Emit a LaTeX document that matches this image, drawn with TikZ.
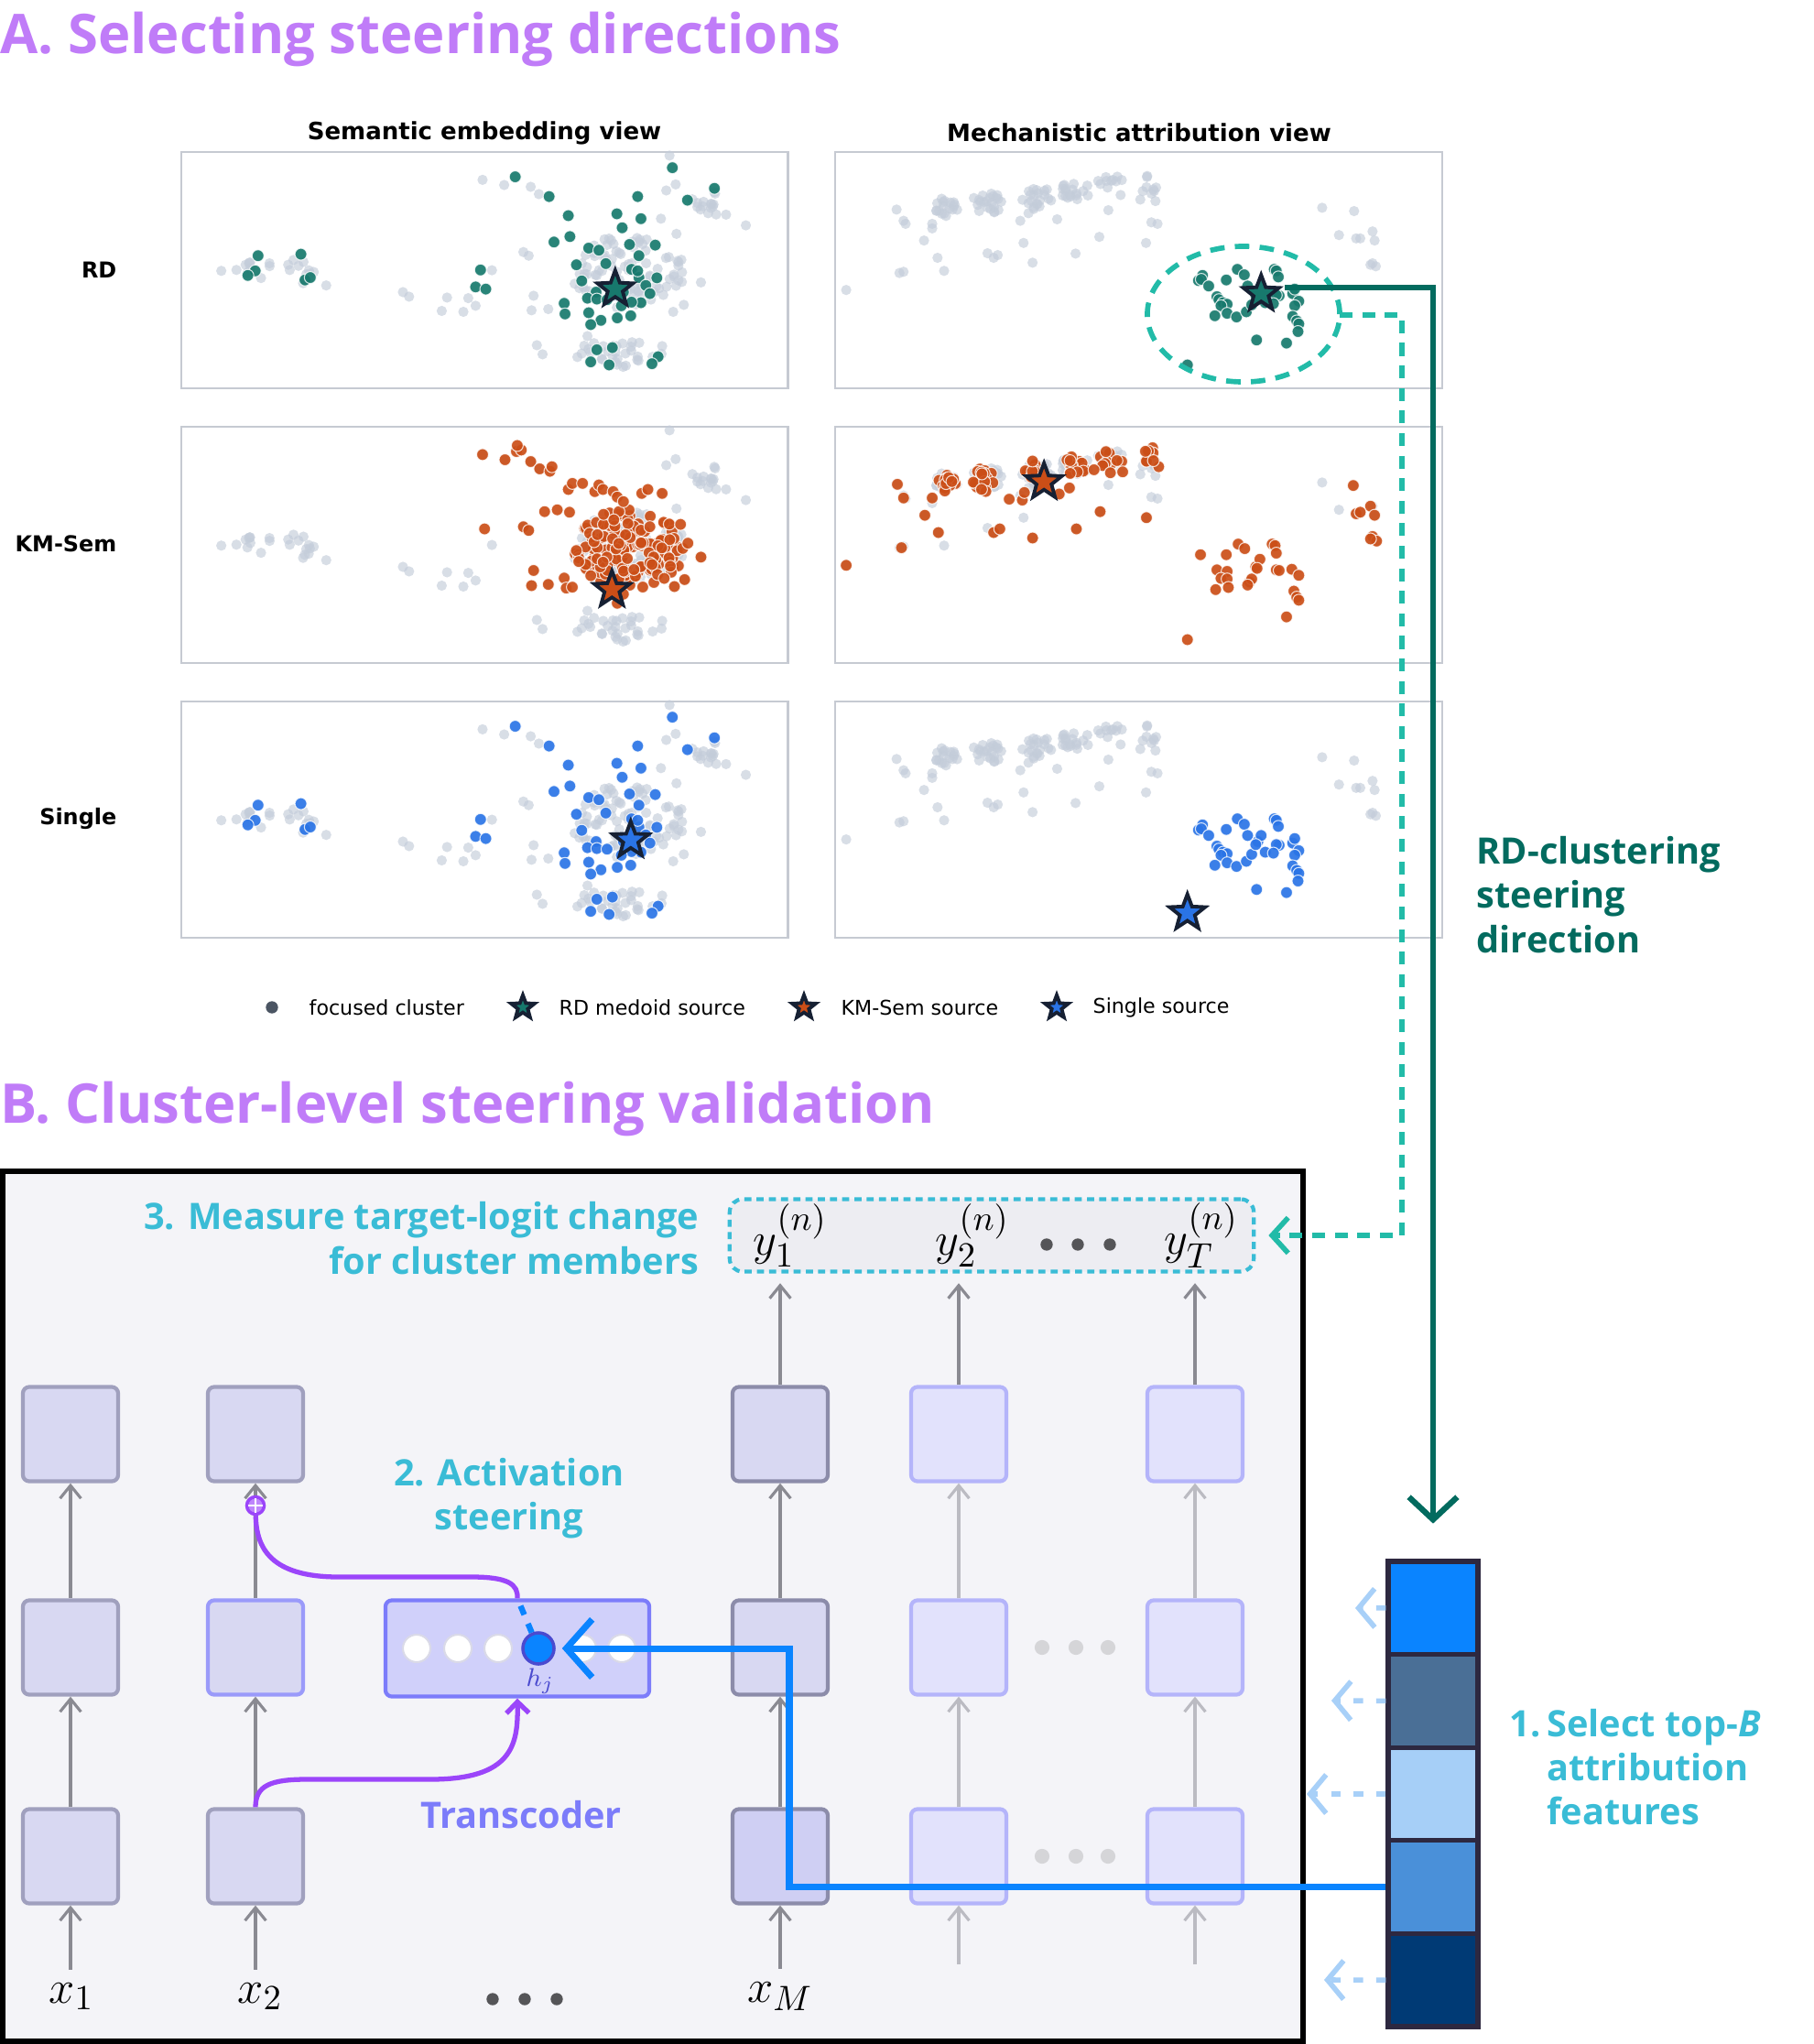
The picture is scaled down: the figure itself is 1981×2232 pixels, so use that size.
\documentclass[tikz,border=0pt]{standalone}
\usepackage[no-math]{fontspec}
\usetikzlibrary{arrows.meta,positioning}
\newfontfamily\annotfont{Open Sans}
\newfontfamily\mplfont{DejaVu Sans}

\definecolor{titlepurple}{HTML}{C07CF8}
\definecolor{annotcyan}{HTML}{3ABCD6}
\definecolor{rdteal}{HTML}{036B5F}
\definecolor{dashteal}{HTML}{22BBA8}
\definecolor{ptteal}{HTML}{17796D}
\definecolor{ptorange}{HTML}{CB4E17}
\definecolor{ptblue}{HTML}{2A74E6}
\definecolor{ptgray}{HTML}{C3CCD9}
\definecolor{stardark}{HTML}{162033}
\definecolor{framegray}{HTML}{C6CAD2}
\definecolor{legenddot}{HTML}{4B5563}
\definecolor{panelbg}{HTML}{F4F4F8}
\definecolor{cellfill}{HTML}{D8D8F2}
\definecolor{celledge}{HTML}{A0A0BE}
\definecolor{celldark}{HTML}{8C8CAA}
\definecolor{cellsteeredge}{HTML}{9A9AFA}
\definecolor{cellpalefill}{HTML}{E2E2FC}
\definecolor{cellpaleedge}{HTML}{B4B4FA}
\definecolor{tcfill}{HTML}{D0D0FA}
\definecolor{tcedge}{HTML}{7C7CFA}
\definecolor{hjtext}{HTML}{4A4ACF}
\definecolor{unitedge}{HTML}{DADAE8}
\definecolor{steerpurple}{HTML}{9B45FA}
\definecolor{featblue}{HTML}{0A84FF}
\definecolor{arrowgray}{HTML}{8A8A92}
\definecolor{arrowpale}{HTML}{BBBBC2}
\definecolor{dotgray}{HTML}{555558}
\definecolor{dotpale}{HTML}{D5D5D8}
\definecolor{hintblue}{HTML}{A8D0F8}
\definecolor{ybg}{HTML}{EDEDF2}
\definecolor{segA}{HTML}{0A84FF}
\definecolor{segB}{HTML}{4A6F96}
\definecolor{segC}{HTML}{A6CFF7}
\definecolor{segD}{HTML}{4A90D9}
\definecolor{segE}{HTML}{003A75}
\definecolor{segline}{HTML}{2D2840}

\tikzset{
  graypt/.style={fill=ptgray, fill opacity=.65, radius=1.6pt},
  focuspt/.style={fill=#1, fill opacity=.92, draw=white, draw opacity=.8, line width=.3pt, radius=1.85pt},
  plotframe/.style={draw=framegray, line width=.6pt}
}

\newcommand{\cloud}[6]{%
  \foreach \k in {1,...,#1}{%
    \pgfmathsetmacro\crad{sqrt(rnd)}\pgfmathsetmacro\cang{360*rnd}%
    \fill[#6] ({#2+#4*\crad*cos(\cang)},{#3+#5*\crad*sin(\cang)}) circle;}}

\newcommand{\srcstar}[3][5.8pt]{%
  \filldraw[fill=#3, draw=stardark, line width=1.1pt, line join=miter]
    (#2) +(90:#1) -- +(126:{.42*#1}) -- +(162:#1) -- +(198:{.42*#1}) -- +(234:#1)
    -- +(270:{.42*#1}) -- +(306:#1) -- +(342:{.42*#1}) -- +(18:#1) -- +(54:{.42*#1}) -- cycle;}

\newcommand{\semgray}{%
  \pgfmathsetseed{11}%
  \foreach \n/\cx/\cy/\rx/\ry in {10/195/435/50/40, 12/318/432/45/50, 95/1110/440/140/125,
      30/1090/712/110/45, 16/1320/218/55/45}{\cloud{\n}{\cx}{\cy}{\rx}{\ry}{graypt}}
  \foreach \px/\py in {755/140, 808/157, 873/163, 893/187, 1213/60, 1228/155, 1205/175, 1192/268,
      1230/318, 1400/290, 855/378, 868/390, 880/522, 875/570, 916/566, 888/685, 902/715,
      1290/478, 1248/552, 1222/575, 560/510, 575/525, 668/528, 655/572, 720/530, 708/575,
      738/555, 778/438, 115/440, 372/488, 1012/655, 1195/688}{\fill[graypt] (\px,\py) circle;}}

\newcommand{\semfocus}[1]{%
  \foreach \px/\py in {205/390, 310/385, 198/440, 180/455, 320/470, 333/462, 750/437, 738/493,
      763/500, 835/130, 918/195, 1220/100, 1323/168, 1257/207, 1135/195, 965/258, 1084/252,
      1143/268, 1097/298, 969/327, 930/345, 1015/365, 1040/372, 1115/353, 1178/355, 1138/390,
      985/420, 1057/416, 1120/435, 1138/462, 1182/463, 998/473, 1033/510, 1012/530, 1035/533,
      1155/488, 1165/515, 1143/545, 1120/543, 955/547, 957/582, 1015/578, 1045/603, 1020/617,
      1085/595, 1118/588, 1095/555, 1035/700, 1073/693, 1185/723, 1170/746, 1020/740, 1065/750,
      1135/440, 1100/510, 1060/535}{\fill[focuspt=#1] (\px,\py) circle;}}

\newcommand{\semkm}{%
  \pgfmathsetseed{23}%
  \cloud{160}{1115}{455}{135}{135}{focuspt=ptorange}
  \foreach \px/\py in {755/140, 810/157, 838/130, 850/125, 840/110, 873/163, 895/187, 920/195,
      925/180, 965/255, 975/235, 1000/235, 1030/262, 1040/240, 1050/255, 1075/262, 1085/280,
      1100/295, 1145/268, 1160/255, 1195/268, 760/385, 855/378, 868/390, 880/522, 875/572,
      916/568, 955/547, 960/580, 975/577, 1290/478, 1250/552, 1225/575, 1200/548, 1240/370,
      1258/432, 1215/508, 907/328, 938/322, 968/330, 1085/630, 1100/600}{\fill[focuspt=ptorange] (\px,\py) circle;}}

\newcommand{\mechgray}{%
  \pgfmathsetseed{5}%
  \foreach \n/\cx/\cy/\rx/\ry in {18/300/232/32/32, 22/400/215/38/40, 20/520/200/38/38,
      18/615/178/38/32, 10/700/150/32/32, 8/795/165/20/45}{\cloud{\n}{\cx}{\cy}{\rx}{\ry}{graypt}}
  \foreach \px/\py in {178/238, 195/275, 200/285, 265/285, 265/300, 245/340, 278/397, 185/447,
      195/443, 294/440, 400/382, 415/397, 425/388, 488/348, 510/413, 615/383, 673/328, 787/348,
      800/280, 815/285, 55/503, 480/275, 500/250, 570/270, 695/240, 725/190, 773/205, 810/210,
      1217/232, 1295/243, 1258/322, 1300/333, 1310/333, 1340/310, 1345/340, 1340/415, 1348/425,
      1335/420}{\fill[graypt] (\px,\py) circle;}}

\newcommand{\mechfocus}[1]{%
  \foreach \px/\py in {925/455, 915/472, 922/468, 940/490, 983/470, 1010/435, 1027/453, 1035/490,
      1100/435, 1105/440, 1110/460, 960/525, 965/535, 975/545, 985/550, 970/555, 955/588, 985/580,
      1008/592, 1032/575, 1045/552, 1060/510, 1068/490, 1112/522, 1105/520, 1145/515, 1150/500,
      1160/540, 1150/555, 1145/590, 1155/605, 1160/615, 1158/640, 1057/668, 1130/678, 888/750,
      1055/520, 1078/545, 1098/548}{\fill[focuspt=#1] (\px,\py) circle;}}

\newcommand{\mechkm}{%
  \pgfmathsetseed{31}%
  \foreach \n/\cx/\cy/\rx/\ry in {15/300/235/28/30, 18/395/222/32/40, 10/505/185/22/30,
      16/610/180/32/35, 12/700/150/32/35, 6/795/140/20/25}{\cloud{\n}{\cx}{\cy}{\rx}{\ry}{focuspt=ptorange}}
  \foreach \px/\py in {180/238, 195/283, 265/283, 247/340, 280/397, 190/447, 55/505, 415/397,
      430/385, 510/415, 617/385, 675/328, 788/348, 453/287, 485/290, 490/265, 575/270, 600/250,
      660/190, 700/200, 730/197, 818/180, 805/160, 920/470, 983/470, 1012/435, 1028/450, 1095/435,
      1102/440, 1105/465, 960/520, 985/525, 970/548, 985/550, 957/585, 988/578, 1040/560, 1045/550,
      1055/510, 1065/485, 1058/515, 1105/520, 1112/522, 1143/518, 1160/538, 1148/590, 1155/610,
      1160/620, 1130/675, 888/750, 1035/570, 1293/242, 1300/335, 1335/310, 1345/340, 1310/330,
      1340/410, 1350/425, 1335/418}{\fill[focuspt=ptorange] (\px,\py) circle;}}

\begin{document}
\begin{tikzpicture}[x=0.01cm, y=-0.01cm, every node/.style={inner sep=0pt},
  sectitle/.style={font=\annotfont\bfseries\fontsize{17}{20}\selectfont, text=titlepurple, anchor=base west},
  plottitle/.style={font=\mplfont\bfseries\fontsize{7.4}{9}\selectfont},
  rowlabel/.style={font=\mplfont\bfseries\fontsize{6.8}{9}\selectfont, anchor=east},
  legendtext/.style={font=\mplfont\fontsize{6.3}{8}\selectfont, anchor=west},
  stepnote/.style={font=\annotfont\bfseries\fontsize{11.3}{13.7}\selectfont, text=annotcyan},
  dirnote/.style={stepnote, text=rdteal},
  mathlabel/.style={font=\fontsize{15}{18}\selectfont},
  cell/.style={draw=celledge, fill=cellfill, line width=1.2pt, rounded corners=2pt,
    minimum width=1.04cm, minimum height=1.03cm},
  cellsteer/.style={cell, draw=cellsteeredge},
  cellmain/.style={cell, draw=celldark},
  cellpale/.style={cell, draw=cellpaleedge, fill=cellpalefill},
  ybox/.style={draw=annotcyan, fill=ybg, line width=1.2pt, dash pattern=on 2.2pt off 1.6pt,
    rounded corners=4pt, minimum width=5.72cm, minimum height=0.79cm},
  tcbox/.style={draw=tcedge, fill=tcfill, line width=1.2pt, rounded corners=2pt,
    minimum width=2.88cm, minimum height=1.05cm},
  unit/.style={circle, draw=unitedge, fill=white, line width=.6pt, minimum size=0.3cm},
  hjunit/.style={circle, draw=hjtext, fill=featblue, line width=1pt, minimum size=0.34cm},
  seg/.style={draw=segline, line width=1.5pt, minimum width=0.98cm, minimum height=1.016cm},
  flow/.style={draw=arrowgray, line width=.9pt, -{Straight Barb[length=4pt,width=6.5pt]}},
  flowpale/.style={flow, draw=arrowpale},
  steer/.style={draw=steerpurple, line width=1.5pt},
  steerin/.style={steer, -{Straight Barb[length=3.5pt,width=7pt]}},
  featline/.style={draw=featblue, line width=2pt, -{Straight Barb[length=8pt,width=18pt]}},
  rdlink/.style={draw=rdteal, line width=1.8pt, -{Straight Barb[length=7pt,width=15pt]}},
  ringlink/.style={draw=dashteal, line width=1.6pt, dash pattern=on 4pt off 3pt,
    -{Straight Barb[length=5pt,width=11pt]}},
  focusring/.style={draw=dashteal, line width=1.6pt, dash pattern=on 4.5pt off 3.2pt},
  hintlink/.style={draw=hintblue, line width=1.6pt, dash pattern=on 3pt off 4pt,
    -{Straight Barb[length=5pt,width=12pt]}},
  panelframe/.style={draw=black, fill=panelbg, line width=1.5pt}]
\useasboundingbox (0,0) rectangle (1981,2232);

\node[sectitle] (titleA) at (0,58) {A. Selecting steering directions};
\node[plottitle] (semtitle) at (529,145) {Semantic embedding view};
\node[plottitle] (mechtitle) at (1244,145) {Mechanistic attribution view};
\node[rowlabel] (rowrd) at (128,295) {RD};
\node[rowlabel] (rowkm) at (128,594) {KM-Sem};
\node[rowlabel] (rowsg) at (128,894) {Single};

\begin{scope}[shift={(190.4,150)}, x={(0.004462cm,0)}, y={(0,-0.003316cm)}]
	\draw[plotframe] (17,47) rectangle (1503,828);
	\semgray
	\semfocus{ptteal}
	\srcstar{1080,500}{ptteal}
\end{scope}
\begin{scope}[shift={(190.4,450)}, x={(0.004462cm,0)}, y={(0,-0.003316cm)}]
	\draw[plotframe] (17,47) rectangle (1503,828);
	\semgray
	\semkm
	\srcstar{1072,585}{ptorange}
\end{scope}
\begin{scope}[shift={(190.4,750)}, x={(0.004462cm,0)}, y={(0,-0.003316cm)}]
	\draw[plotframe] (17,47) rectangle (1503,828);
	\semgray
	\semfocus{ptblue}
	\srcstar{1118,505}{ptblue}
\end{scope}
\begin{scope}[shift={(899.5,150)}, x={(0.004464cm,0)}, y={(0,-0.003316cm)}]
	\draw[plotframe] (28,47) rectangle (1511,828);
	\mechgray
	\mechfocus{ptteal}
	\srcstar{1068,515}{ptteal}
\end{scope}
\begin{scope}[shift={(899.5,450)}, x={(0.004464cm,0)}, y={(0,-0.003316cm)}]
	\draw[plotframe] (28,47) rectangle (1511,828);
	\mechgray
	\mechkm
	\srcstar{538,230}{ptorange}
\end{scope}
\begin{scope}[shift={(899.5,750)}, x={(0.004464cm,0)}, y={(0,-0.003316cm)}]
	\draw[plotframe] (28,47) rectangle (1511,828);
	\mechgray
	\mechfocus{ptblue}
	\srcstar{888,745}{ptblue}
\end{scope}

\draw[focusring] (1358,343) ellipse [x radius=1.05cm, y radius=0.74cm];

\fill[legenddot] (297,1100) circle (1.9pt);
\node[legendtext] (legfocus) at (337,1100) {focused cluster};
\srcstar[3.8pt]{571,1100}{ptteal}
\node[legendtext] (legrd) at (610,1100) {RD medoid source};
\srcstar[3.8pt]{878,1100}{ptorange}
\node[legendtext] (legkm) at (918,1100) {KM-Sem source};
\srcstar[3.8pt]{1154,1100}{ptblue}
\node[legendtext] (legsg) at (1193,1100) {Single source};

\node[sectitle] (titleB) at (0,1226) {B. Cluster-level steering validation};
\draw[panelframe] (3,1279) rectangle (1423,2229);

\node[stepnote, align=right, anchor=east] (measure) at (764,1352) {3. Measure target-logit change\\for cluster members};
\node[ybox] (ybox) at (1083,1349) {};
\node[mathlabel] (y1) at (863,1349) {$y_1^{(n)}$};
\node[mathlabel] (y2) at (1062,1349) {$y_2^{(n)}$};
\node[mathlabel] (yT) at (1312,1349) {$y_T^{(n)}$};
\foreach \dx in {1143,1177,1212} \fill[dotgray] (\dx,1359) circle (1.9pt);

\node[cell] (c11) at (77,2027) {};
\node[cell] (c12) at (77,1799) {};
\node[cell] (c13) at (77,1566) {};
\node[cell] (c21) at (279,2027) {};
\node[cellsteer] (c22) at (279,1799) {};
\node[cell] (c23) at (279,1566) {};
\node[cellmain, fill=cellfill!90!tcedge] (c31) at (852,2027) {};
\node[cellmain] (c32) at (852,1799) {};
\node[cellmain] (c33) at (852,1566) {};
\node[cellpale] (c41) at (1047,2027) {};
\node[cellpale] (c42) at (1047,1799) {};
\node[cellpale] (c43) at (1047,1566) {};
\node[cellpale] (c51) at (1305,2027) {};
\node[cellpale] (c52) at (1305,1799) {};
\node[cellpale] (c53) at (1305,1566) {};
\foreach \dx in {1138,1175,1210} {
	\fill[dotpale] (\dx,1799) circle (2.3pt);
	\fill[dotpale] (\dx,2027) circle (2.3pt);
}

\node[mathlabel] (x1) at (78,2180) {$x_1$};
\node[mathlabel] (x2) at (284,2180) {$x_2$};
\node[mathlabel] (xM) at (852,2180) {$x_M$};
\foreach \dx in {538,573,608} \fill[dotgray] (\dx,2183) circle (1.9pt);
\coordinate (in4) at (1047,2145);
\coordinate (in5) at (1305,2145);

\draw[flow, shorten <=4pt] (x1.north -| c11) -- (c11);
\draw[flow] (c11) -- (c12);
\draw[flow] (c12) -- (c13);
\draw[flow, shorten <=4pt] (x2.north -| c21) -- (c21);
\draw[flow] (c21) -- (c22);
\draw[flow] (c22) -- (c23);
\draw[flow, shorten <=4pt] (xM.north -| c31) -- (c31);
\draw[flow] (c31) -- (c32);
\draw[flow] (c32) -- (c33);
\draw[flow, shorten >=3pt] (c33) -- (c33 |- ybox.south);
\draw[flowpale] (in4) -- (c41);
\draw[flowpale] (c41) -- (c42);
\draw[flowpale] (c42) -- (c43);
\draw[flow, shorten >=3pt] (c43) -- (c43 |- ybox.south);
\draw[flowpale] (in5) -- (c51);
\draw[flowpale] (c51) -- (c52);
\draw[flowpale] (c52) -- (c53);
\draw[flow, shorten >=3pt] (c53) -- (c53 |- ybox.south);

\node[stepnote, align=center] (actnote) at (556,1636) {2. Activation\\steering};
\node[tcbox] (tc) at (565,1800) {};
\node[unit] (u1) at (455,1800) {};
\node[unit] (u2) at (500,1800) {};
\node[unit] (u3) at (544,1800) {};
\node[unit] (u5) at (636,1800) {};
\node[unit] (u6) at (679,1800) {};
\node[hjunit] (hj) at (588,1800) {};
\node[font=\fontsize{8}{9}\selectfont, text=hjtext] (hjlabel) at (590,1836) {$h_j$};
\node[stepnote, text=tcedge] (tcnote) at (569,1982) {Transcoder};

\draw[steerin] (c21.north) .. controls (279,1950) and (295,1943) .. (335,1943) -- (470,1943)
	.. controls (560,1943) and (566,1905) .. (tc.south);
\node[circle, draw=steerpurple, fill=steerpurple!65, line width=1pt, minimum size=0.19cm] (plus) at (279,1644) {};
\draw[white, line width=.8pt] ([xshift=-2.3pt]plus.center) -- ([xshift=2.3pt]plus.center)
	([yshift=-2.3pt]plus.center) -- ([yshift=2.3pt]plus.center);
\draw[steer] (tc.north) .. controls (566,1730) and (555,1722) .. (515,1722) -- (370,1722)
	.. controls (295,1722) and (280,1690) .. (plus);
\draw[featblue, line width=1.8pt, dash pattern=on 3pt off 3pt] (hj) -- (tc.north);

\foreach \i/\c in {1/segA,2/segB,3/segC,4/segD,5/segE}
	\node[seg, fill=\c] (f\i) at (1565,{1705+101.6*(\i-0.5)}) {};
\coordinate (h1) at (1480,1756);
\coordinate (h2) at (1454,1857);
\coordinate (h3) at (1427,1959);
\coordinate (h5) at (1446,2162);
\draw[hintlink] (f1.west) -- (h1);
\draw[hintlink] (f2.west) -- (h2);
\draw[hintlink] (f3.west) -- (h3);
\draw[hintlink] (f5.west) -- (h5);

\coordinate (bend) at (862,1800);
\draw[featline, shorten >=2pt] (f4.west) -| (bend) -- (hj.east);

\node[stepnote, align=left, anchor=west] (selnote) at (1648,1935)
	{\begin{tabular}{@{}l@{\,}l@{}}1.&Select top-\textit{B}\\&attribution\\&features\end{tabular}};

\coordinate (rdsrc) at (1403,314);
\draw[rdlink, shorten >=11pt] (rdsrc) -| (f1.north);
\coordinate (ringE) at (1463,344);
\coordinate (ringturn) at (1531,344);
\draw[ringlink, shorten >=4pt] (ringE) -- (ringturn) |- (ybox.east);
\node[dirnote, align=left, anchor=west] (dirnote) at (1612,977) {RD-clustering\\steering\\direction};

\end{tikzpicture}
\end{document}
